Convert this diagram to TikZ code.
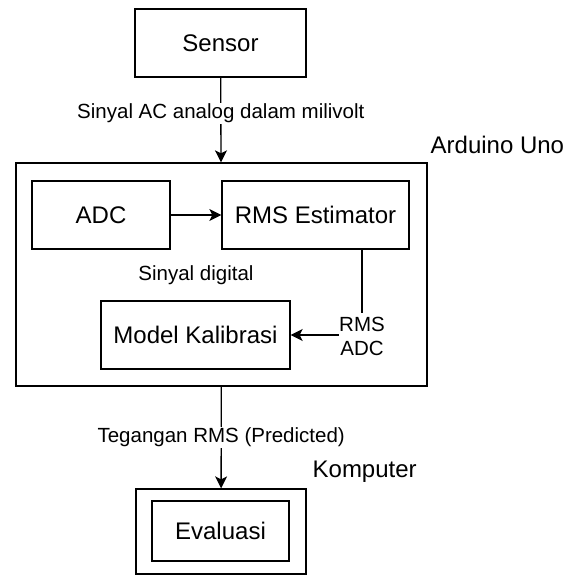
\documentclass[tikz,border=0pt]{standalone}
\usepackage{fontspec}
\setmainfont{Liberation Sans}
\usetikzlibrary{arrows.meta,positioning}

\begin{document}
\begin{tikzpicture}[x=1pt, y=-1pt, line width=1.3pt,
    block/.style={draw, rectangle, inner sep=0pt, minimum height=68pt,
        font=\fontsize{24pt}{28pt}\selectfont},
    group/.style={draw, rectangle, inner sep=0pt},
    grouplabel/.style={anchor=west, inner sep=0pt, font=\fontsize{24pt}{28pt}\selectfont},
    flowlabel/.style={fill=white, inner sep=1pt, align=center,
        font=\fontsize{20.5pt}{24pt}\selectfont},
    flow/.style={-{Stealth[length=12pt, width=12pt, inset=3pt]}}]
    \useasboundingbox (0,0) rectangle (573,575);

	% sensor and arduino
	\node [block, minimum width=171pt] (sensor) at (220.5,43) {Sensor};
	\node [group, minimum width=411pt, minimum height=223pt] (arduino) at (221.5,274.5) {};
	\node [grouplabel] (arduinolbl) at (430,145) {Arduino Uno};

	\node [block, minimum width=138pt] (adc) at (101,215) {ADC};
	\node [block, minimum width=187pt] (rms) at (315.5,215) {RMS Estimator};
	\node [block, minimum width=189pt] (model) at (195.5,335) {Model Kalibrasi};
	\node [flowlabel, fill=none] (digital) at (196,275) {Sinyal digital};
	\node [flowlabel, inner sep=0pt] (rmsadc) at (362,336) {RMS\\ADC};

	% komputer
	\node [group, minimum width=170pt, minimum height=85pt] (komputer) at (221,531.5) {};
	\node [block, minimum width=137pt, minimum height=60pt] (evaluasi) at (220.5,531) {Evaluasi};
	\node [grouplabel] (komputerlbl) at (312,472) {Komputer};

	\draw [flow] (sensor) -- node [flowlabel, pos=0.42] {Sinyal AC analog dalam milivolt} (arduino);
	\draw [flow] (adc) -- (rms);
	\draw (rms.south -| rmsadc.north) -- ([yshift=3pt]rmsadc.north);
	\draw [flow] (rmsadc.west |- model.east) -- (model.east);
	\draw [flow] (arduino) -- node [flowlabel] {Tegangan RMS (Predicted)} (komputer);

\end{tikzpicture}
\end{document}
